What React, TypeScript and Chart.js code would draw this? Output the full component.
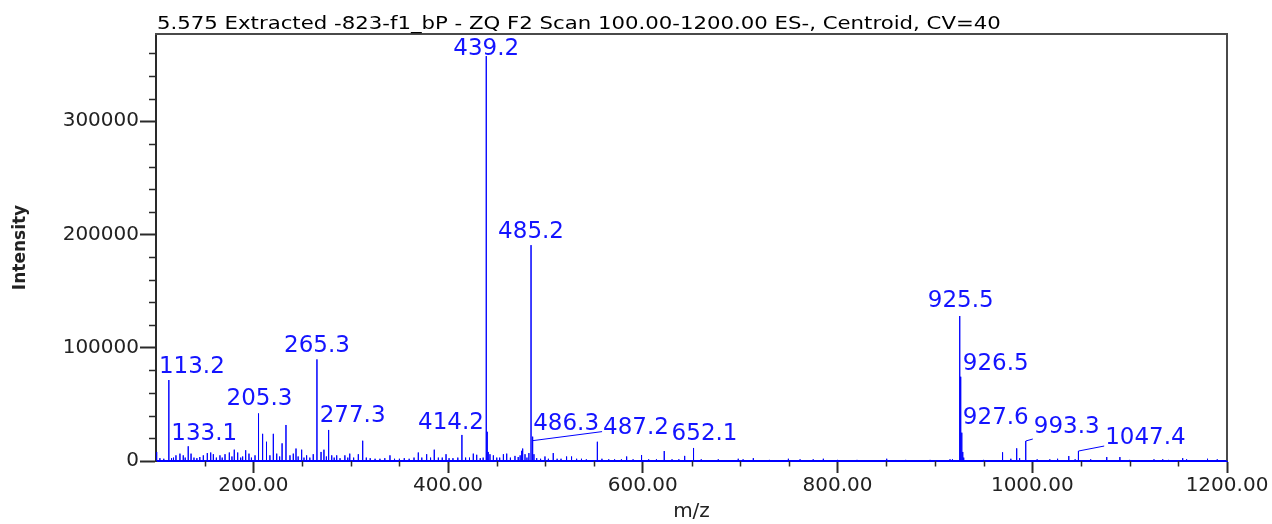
import React, { useEffect, useRef } from 'react';
import { Chart, registerables } from 'chart.js';

Chart.register(...registerables);

// ---------- data ----------
const TITLE = '5.575 Extracted -823-f1_bP - ZQ F2 Scan 100.00-1200.00 ES-, Centroid, CV=40';
const X_LABEL = 'm/z';
const Y_LABEL = 'Intensity';
const X_MIN = 100;
const X_MAX = 1200;
const Y_MAX = 377000;

// tick positions (major ones get labels)
const xTickValues = [
  100, 150, 200, 250, 300, 350, 400, 450, 500, 550, 600, 650, 700, 750, 800, 850, 900, 950, 1000,
  1050, 1100, 1150, 1200,
];
const xTickLabels = ['200.00', '400.00', '600.00', '800.00', '1000.00', '1200.00'];
const yTickValues = [
  0, 20000, 40000, 60000, 80000, 100000, 120000, 140000, 160000, 180000, 200000, 220000, 240000,
  260000, 280000, 300000, 320000, 340000, 360000,
];
const yTickLabels = ['0', '100000', '200000', '300000'];

const peakMz = [
  100.7, 104, 108, 113.2, 116, 118, 120.5, 124.6, 128, 130, 133.1, 136, 139, 142, 145, 148.6,
  152.7, 156.2, 158.9, 162, 165.7, 168, 170.9, 175.3, 178, 180.4, 183.9, 187, 189, 192.1, 195.5,
  198, 201.7, 205.3, 209.5, 213.5, 217, 220.5, 224, 227, 229.5, 233.5, 237.6, 241, 243.8, 246,
  249.6, 252, 254.7, 258, 261.5, 265.3, 269.5, 272.5, 275, 277.3, 280.5, 283, 285.6, 289, 294,
  297, 299, 303, 307.8, 312.3, 316, 320, 325, 330, 335, 340.3, 345, 350, 355, 360, 365, 369.4,
  373, 378, 382, 385.8, 390, 394, 397.9, 401, 405, 410, 414.2, 418, 422, 425.9, 429.4, 433, 436,
  439.2, 440.2, 441.2, 443, 446.5, 450, 453, 456.8, 460.2, 464, 468.7, 472, 474, 475.6, 476.6,
  479, 481, 483, 485.2, 486.3, 487.2, 488.2, 491, 495, 499.5, 503, 508, 512, 516, 521.7, 526.8, 532,
  537, 542, 553.3, 558, 565, 571, 578, 583.4, 590, 598.7, 606, 614, 622, 630, 637, 643, 652.1,
  660, 677.5, 698, 703, 713.5, 730, 749.5, 761.5, 775, 785.4, 800, 820, 850.5, 870, 895, 915.5,
  918, 925.5, 926.5, 927.6, 928.6, 929.6, 950, 969.5, 978, 984, 987, 993.3, 1005, 1018, 1026,
  1037.5, 1044, 1047.4, 1060, 1076.5, 1090, 1100, 1125, 1134, 1140, 1154.5, 1158.5, 1180, 1190,
];
const peakIntensity = [
  8000, 2500, 2000, 71500, 2500, 3000, 5000, 6500, 5000, 3000, 13000, 6500, 3000, 2500, 3500, 5000,
  7000, 7500, 6000, 3000, 5000, 3000, 6000, 7500, 4000, 10000, 7500, 3000, 4000, 9500, 6500,
  3000, 5000, 42000, 24000, 17000, 5000, 24000, 6500, 4000, 15600, 31800, 5000, 6500, 11000, 4000,
  10000, 3000, 5000, 3000, 6000, 89700, 8000, 10000, 4000, 27400, 5000, 3000, 5000, 2500, 5000,
  3000, 6500, 3000, 6000, 17900, 3000, 2500, 2000, 2000, 2500, 5000, 2000, 2000, 2500, 2000, 3000, 7500,
  3000, 6000, 3000, 10000, 3000, 3000, 6000, 2500, 2500, 3000, 23000, 3000, 3000, 6500, 5500, 2500, 3000,
  357500, 25800, 8000, 6000, 5000, 3000, 3000, 6000, 6500, 3000, 4500, 3500, 5000, 9000, 11000,
  6000, 3000, 7000, 190600, 21500, 18000, 6000, 2500, 2000, 4000, 2000, 7000, 2000, 2000, 4000, 4000, 2000,
  2000, 1500, 17000, 2000, 1500, 1500, 1500, 4000, 1500, 5300, 1500, 1500, 8800, 1500, 1500, 4500, 11500,
  1500, 1500, 2000, 1500, 2500, 1000, 2000, 1500, 1500, 2000, 1000, 1000, 2000, 1000, 1000, 1500,
  1500, 128000, 74400, 25000, 8000, 3000, 1000, 7700, 2000, 11200, 2500, 17650, 1500, 1500, 2000,
  4400, 1500, 8800, 1500, 3500, 3500, 1000, 1500, 1500, 1000, 2500, 1500, 2000, 1500,
];

const labelMz = [113.2, 133.1, 205.3, 265.3, 277.3, 414.2, 439.2, 485.2, 486.3, 487.2, 652.1, 925.5, 926.5, 927.6, 993.3, 1047.4];
const labelText = ['113.2', '133.1', '205.3', '265.3', '277.3', '414.2', '439.2', '485.2', '486.3', '487.2', '652.1', '925.5', '926.5', '927.6', '993.3', '1047.4'];

// ---------- label layout (pixel offsets from the peak top) ----------
const LABEL_LAYOUT: Record<string, { dx: number; dy: number; leader?: number }> = {
  '113.2': { dx: 23, dy: -7 },
  '133.1': { dx: 16, dy: -6 },
  '205.3': { dx: 1, dy: -8 },
  '265.3': { dx: 0, dy: -7 },
  '277.3': { dx: 24, dy: -8 },
  '414.2': { dx: -11, dy: -6 },
  '439.2': { dx: 0, dy: -1 },
  '485.2': { dx: 0, dy: -7 },
  '486.3': { dx: 34, dy: -7 },
  '487.2': { dx: 103, dy: -7, leader: -2 },
  '652.1': { dx: 11, dy: -8 },
  '925.5': { dx: 1, dy: -9 },
  '926.5': { dx: 35, dy: -7 },
  '927.6': { dx: 34, dy: -9 },
  '993.3': { dx: 41, dy: -8, leader: 6 },
  '1047.4': { dx: 67, dy: -7, leader: 2 },
};

const FONT = '"DejaVu Sans", "Liberation Sans", sans-serif';
const BLUE = '#0000ff';
const LABEL_BLUE = '#1414ff';
const AXIS = '#2a2a2a';
const CLEAR = 'rgba(0,0,0,0)';

const xLabelFor = (v: number) => xTickLabels.find((l) => Number(l) === v) || '';
const yLabelFor = (v: number) => yTickLabels.find((l) => Number(l) === v);

function buildSpectrum() {
  const pts: { x: number; y: number }[] = [{ x: X_MIN, y: 0 }];
  peakMz.forEach((mz, i) => {
    pts.push({ x: mz, y: 0 }, { x: mz, y: peakIntensity[i] }, { x: mz, y: 0 });
  });
  pts.push({ x: X_MAX, y: 0 });
  return pts;
}

const framePlugin = {
  id: 'frameAndTitle',
  beforeDatasetsDraw(chart: any) {
    const { ctx, chartArea } = chart;
    ctx.save();
    ctx.strokeStyle = '#4a4a4a';
    ctx.lineWidth = 2;
    ctx.beginPath();
    ctx.moveTo(chartArea.left - 1, chartArea.top);
    ctx.lineTo(chartArea.right, chartArea.top);
    ctx.lineTo(chartArea.right, chartArea.bottom);
    ctx.stroke();
    ctx.restore();
  },
  afterDraw(chart: any) {
    const { ctx, chartArea, scales } = chart;
    const x = scales.x;
    const y = scales.y;
    ctx.save();
    // minor ticks
    ctx.strokeStyle = AXIS;
    ctx.lineWidth = 1.5;
    ctx.beginPath();
    x.ticks.forEach((t: any) => {
      if (!xLabelFor(t.value) && t.value > X_MIN && t.value < X_MAX) {
        const px = Math.round(x.getPixelForValue(t.value)) + 0.5;
        ctx.moveTo(px, chartArea.bottom);
        ctx.lineTo(px, chartArea.bottom + 5.5);
      }
    });
    y.ticks.forEach((t: any) => {
      if (yLabelFor(t.value) === undefined) {
        const py = Math.round(y.getPixelForValue(t.value)) + 0.5;
        ctx.moveTo(chartArea.left - 7, py);
        ctx.lineTo(chartArea.left, py);
      }
    });
    ctx.stroke();
    // title (horizontally stretched like the reference rendering)
    ctx.fillStyle = '#000';
    ctx.font = `17px ${FONT}`;
    ctx.textAlign = 'left';
    ctx.textBaseline = 'alphabetic';
    ctx.translate(chartArea.left + 1, 29);
    ctx.scale(1.25, 1);
    ctx.fillText(TITLE, 0, 0);
    ctx.restore();
  },
};

const peakLabelPlugin = {
  id: 'peakLabels',
  afterDatasetsDraw(chart: any) {
    const { ctx, scales } = chart;
    const x = scales.x;
    const y = scales.y;
    ctx.save();
    ctx.font = `23px ${FONT}`;
    ctx.fillStyle = LABEL_BLUE;
    ctx.strokeStyle = BLUE;
    ctx.lineWidth = 1;
    ctx.textAlign = 'center';
    ctx.textBaseline = 'alphabetic';
    labelMz.forEach((mz, i) => {
      const idx = peakMz.indexOf(mz);
      const px = x.getPixelForValue(mz);
      const py = y.getPixelForValue(peakIntensity[idx]);
      const lay = LABEL_LAYOUT[labelText[i]];
      const cx = px + lay.dx;
      const by = py + lay.dy;
      ctx.fillText(labelText[i], cx, by);
      if (lay.leader !== undefined) {
        const w = ctx.measureText(labelText[i]).width;
        ctx.beginPath();
        ctx.moveTo(px, py);
        ctx.lineTo(cx - w / 2 - 1, by + lay.leader);
        ctx.stroke();
      }
    });
    ctx.restore();
  },
};

export default function App() {
  const ref = useRef<HTMLCanvasElement | null>(null);

  useEffect(() => {
    if (!ref.current) return;
    const chart = new Chart(ref.current, {
      type: 'line',
      data: {
        datasets: [
          {
            data: buildSpectrum(),
            borderColor: BLUE,
            borderWidth: 1,
            pointRadius: 0,
            tension: 0,
            fill: false,
          },
        ],
      },
      options: {
        animation: false,
        responsive: false,
        layout: { padding: { left: 0, top: 34, right: 45, bottom: 0 } },
        plugins: { legend: { display: false }, tooltip: { enabled: false }, title: { display: false } },
        scales: {
          x: {
            type: 'linear',
            min: X_MIN,
            max: X_MAX,
            afterBuildTicks: (s: any) => {
              s.ticks = xTickValues.map((v) => ({ value: v }));
            },
            afterFit: (s: any) => {
              s.height = 63;
            },
            border: { display: true, color: BLUE, width: 2 },
            grid: {
              drawOnChartArea: false,
              drawTicks: true,
              tickLength: 12,
              tickWidth: 2,
              tickColor: (c: any) => (c.tick && xLabelFor(c.tick.value) ? AXIS : CLEAR),
            },
            ticks: {
              autoSkip: false,
              maxRotation: 0,
              padding: 1,
              color: '#222',
              font: { family: FONT, size: 20 },
              callback: (v: any) => xLabelFor(Number(v)),
            },
            title: {
              display: true,
              text: X_LABEL,
              color: '#222',
              font: { family: FONT, size: 20 },
              padding: 0,
            },
          },
          y: {
            type: 'linear',
            min: 0,
            max: Y_MAX,
            afterBuildTicks: (s: any) => {
              s.ticks = yTickValues.map((v) => ({ value: v }));
            },
            afterFit: (s: any) => {
              s.width = 156;
            },
            border: { display: true, color: AXIS, width: 2 },
            grid: {
              drawOnChartArea: false,
              drawTicks: true,
              tickLength: 16,
              tickWidth: 2,
              tickColor: (c: any) => (c.tick && yLabelFor(c.tick.value) !== undefined ? AXIS : CLEAR),
            },
            ticks: {
              autoSkip: false,
              padding: 1,
              color: '#222',
              font: { family: FONT, size: 20 },
              callback: (v: any) => yLabelFor(Number(v)) || '',
            },
            title: {
              display: true,
              text: Y_LABEL,
              color: '#222',
              font: { family: FONT, size: 17, weight: 'bold' },
              padding: { top: 10, bottom: 0 },
            },
          },
        },
      },
      plugins: [framePlugin, peakLabelPlugin],
    });
    return () => chart.destroy();
  }, []);

  return (
    <div style={{ position: 'fixed', left: 0, top: 0, width: 1272, height: 524, background: '#fff' }}>
      <canvas ref={ref} width={1272} height={524} style={{ display: 'block' }} />
    </div>
  );
}
